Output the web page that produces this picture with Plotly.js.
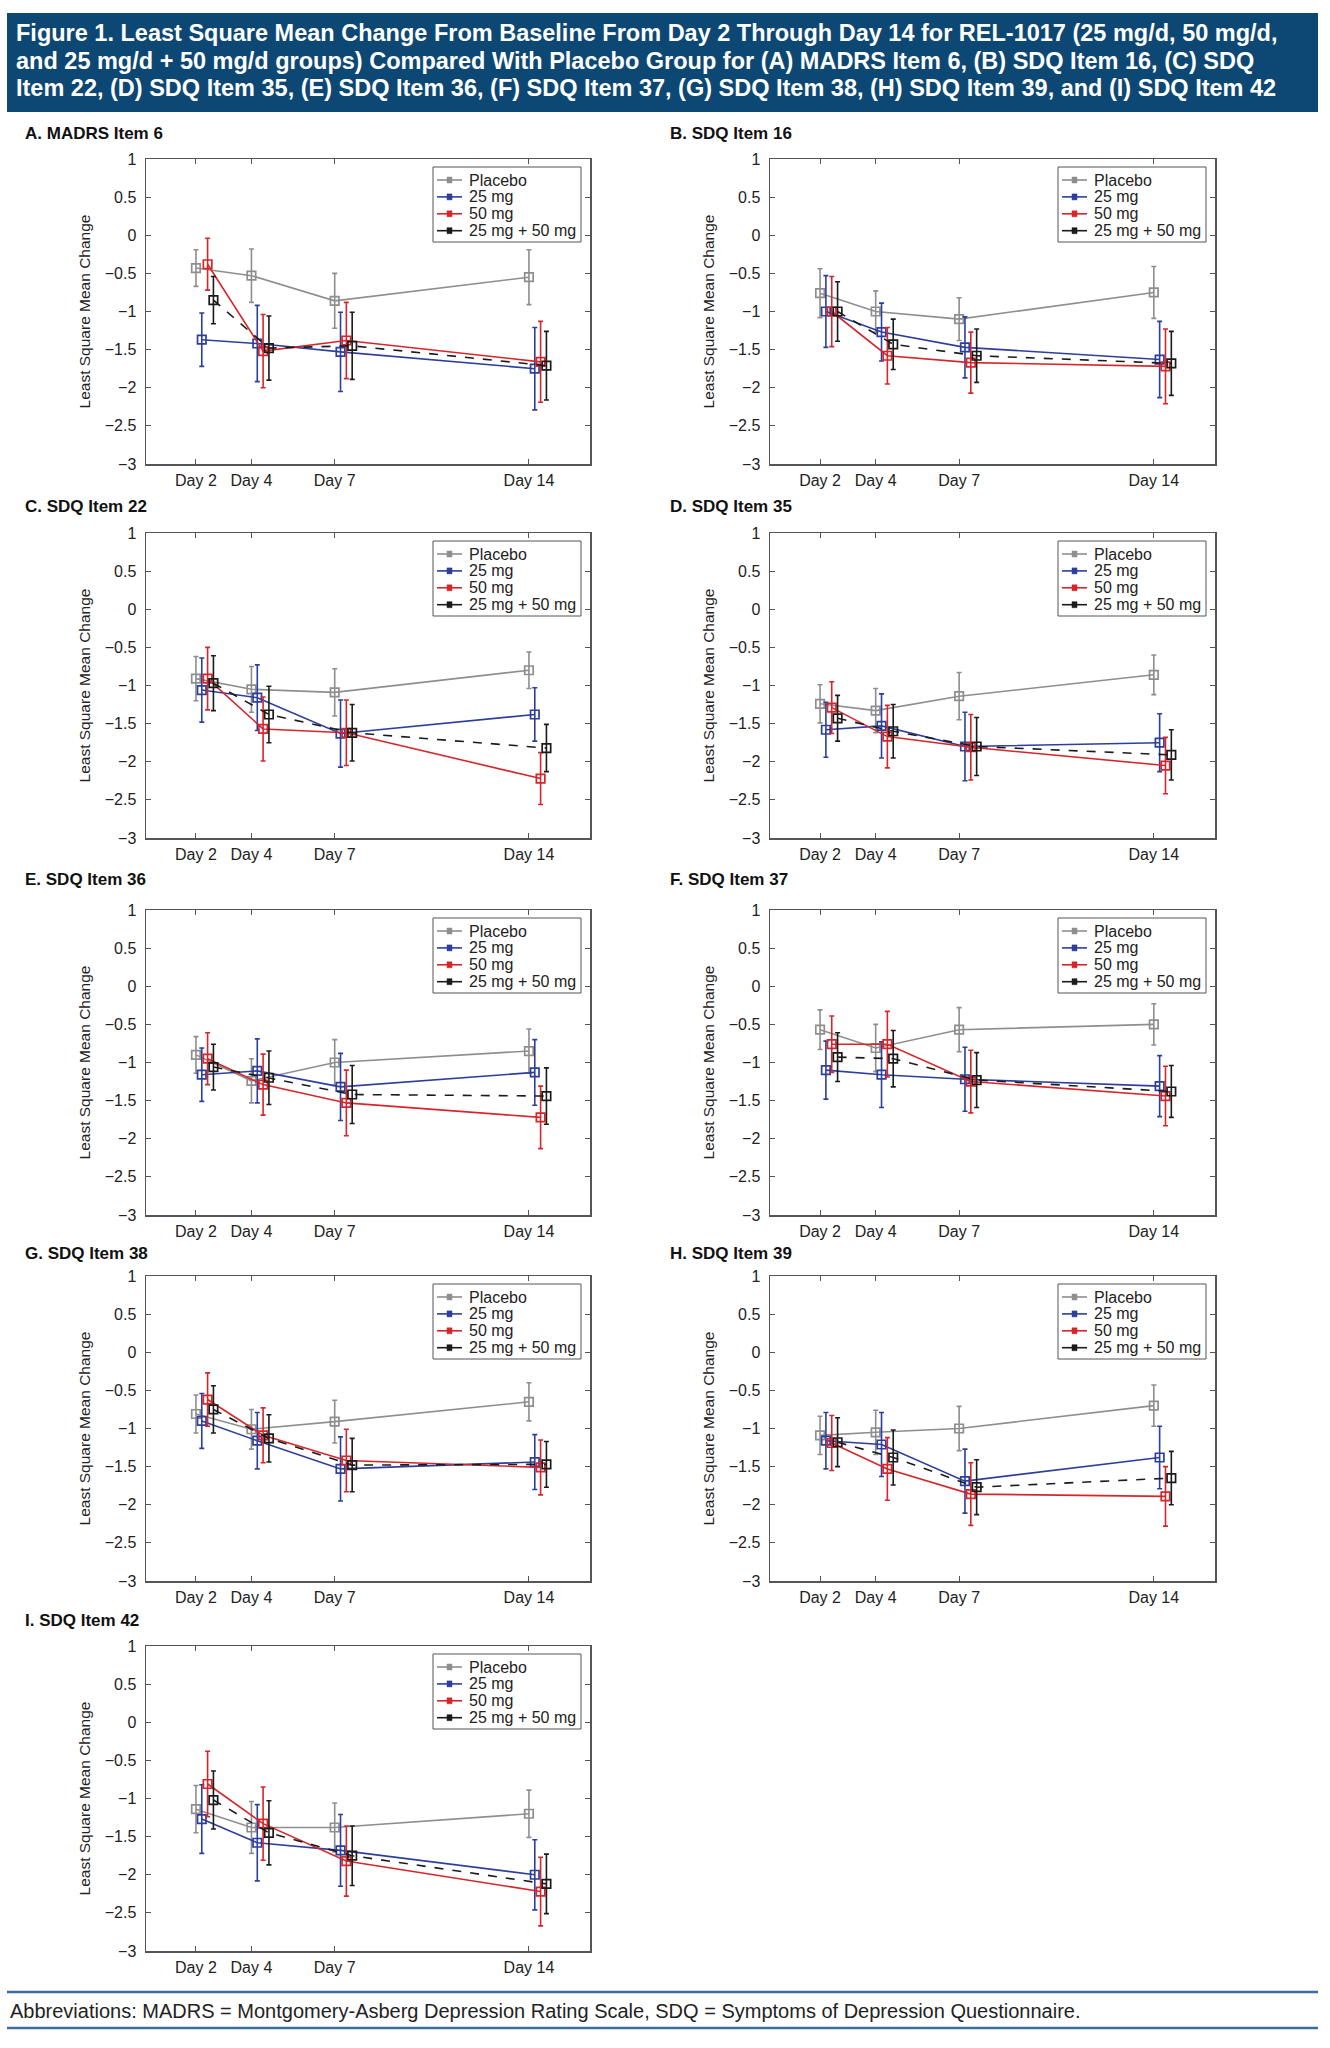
<!DOCTYPE html>
<html><head><meta charset="utf-8">
<script src="https://cdn.plot.ly/plotly-3.0.1.min.js"></script>
<style>html,body{margin:0;padding:0;background:#fff}</style>
</head><body><div id="chart" style="width:1330px;height:2048px"></div>
<script>
// ---------------- DATA ----------------
const days = [2, 4, 7, 14];
const dayLabels = ['Day 2', 'Day 4', 'Day 7', 'Day 14'];
const seriesNames = ['Placebo', '25 mg', '50 mg', '25 mg + 50 mg'];
const panelTitles = ['A. MADRS Item 6', 'B. SDQ Item 16', 'C. SDQ Item 22', 'D. SDQ Item 35',
  'E. SDQ Item 36', 'F. SDQ Item 37', 'G. SDQ Item 38', 'H. SDQ Item 39', 'I. SDQ Item 42'];
const yAxisTitle = 'Least Square Mean Change';
const headerLines = [
  'Figure 1. Least Square Mean Change From Baseline From Day 2 Through Day 14 for REL-1017 (25 mg/d, 50 mg/d,',
  'and 25 mg/d + 50 mg/d groups) Compared With Placebo Group for (A) MADRS Item 6, (B) SDQ Item 16, (C) SDQ',
  'Item 22, (D) SDQ Item 35, (E) SDQ Item 36, (F) SDQ Item 37, (G) SDQ Item 38, (H) SDQ Item 39, and (I) SDQ Item 42'
];
const footnote = 'Abbreviations: MADRS = Montgomery-Asberg Depression Rating Scale, SDQ = Symptoms of Depression Questionnaire.';

// LS mean change (rows: Placebo, 25 mg, 50 mg, 25 mg + 50 mg; columns: Day 2, 4, 7, 14)
// and half-width of the error bars
const meanA = [[-0.43, -0.53, -0.86, -0.55], [-1.37, -1.42, -1.53, -1.75], [-0.38, -1.52, -1.38, -1.66], [-0.85, -1.48, -1.45, -1.71]];
const errA  = [[0.24, 0.35, 0.36, 0.36], [0.35, 0.50, 0.52, 0.54], [0.34, 0.48, 0.50, 0.53], [0.31, 0.42, 0.44, 0.45]];
const meanB = [[-0.76, -1.00, -1.10, -0.75], [-1.00, -1.27, -1.47, -1.63], [-1.00, -1.58, -1.67, -1.72], [-1.00, -1.43, -1.58, -1.68]];
const errB  = [[0.32, 0.27, 0.28, 0.34], [0.47, 0.38, 0.40, 0.50], [0.46, 0.37, 0.40, 0.49], [0.39, 0.33, 0.35, 0.42]];
const meanC = [[-0.91, -1.05, -1.09, -0.80], [-1.06, -1.16, -1.63, -1.38], [-0.91, -1.57, -1.62, -2.22], [-0.97, -1.38, -1.62, -1.82]];
const errC  = [[0.29, 0.30, 0.31, 0.24], [0.42, 0.43, 0.44, 0.35], [0.41, 0.42, 0.43, 0.34], [0.36, 0.37, 0.37, 0.31]];
const meanD = [[-1.24, -1.33, -1.14, -0.86], [-1.58, -1.53, -1.80, -1.75], [-1.29, -1.67, -1.81, -2.05], [-1.43, -1.60, -1.80, -1.91]];
const errD  = [[0.25, 0.29, 0.31, 0.26], [0.36, 0.42, 0.45, 0.38], [0.34, 0.41, 0.43, 0.37], [0.30, 0.35, 0.38, 0.33]];
const meanE = [[-0.90, -1.24, -1.00, -0.85], [-1.16, -1.11, -1.32, -1.13], [-0.95, -1.29, -1.53, -1.72], [-1.06, -1.20, -1.42, -1.44]];
const errE  = [[0.24, 0.29, 0.30, 0.29], [0.35, 0.42, 0.44, 0.43], [0.34, 0.40, 0.43, 0.41], [0.30, 0.35, 0.38, 0.37]];
const meanF = [[-0.57, -0.81, -0.57, -0.50], [-1.10, -1.16, -1.22, -1.31], [-0.76, -0.76, -1.25, -1.44], [-0.93, -0.95, -1.23, -1.38]];
const errF  = [[0.26, 0.31, 0.29, 0.27], [0.38, 0.43, 0.42, 0.40], [0.37, 0.43, 0.41, 0.39], [0.32, 0.37, 0.36, 0.34]];
const meanG = [[-0.81, -1.01, -0.91, -0.65], [-0.90, -1.16, -1.53, -1.44], [-0.62, -1.09, -1.42, -1.51], [-0.75, -1.13, -1.48, -1.47]];
const errG  = [[0.25, 0.26, 0.28, 0.25], [0.36, 0.37, 0.42, 0.36], [0.35, 0.36, 0.41, 0.36], [0.31, 0.31, 0.35, 0.30]];
const meanH = [[-1.09, -1.05, -1.00, -0.70], [-1.16, -1.21, -1.69, -1.38], [-1.19, -1.53, -1.86, -1.89], [-1.18, -1.38, -1.77, -1.65]];
const errH  = [[0.25, 0.29, 0.29, 0.27], [0.37, 0.42, 0.42, 0.41], [0.36, 0.41, 0.41, 0.39], [0.32, 0.36, 0.36, 0.35]];
const meanI = [[-1.14, -1.38, -1.38, -1.20], [-1.27, -1.58, -1.68, -2.00], [-0.81, -1.33, -1.82, -2.22], [-1.02, -1.45, -1.75, -2.12]];
const errI  = [[0.31, 0.34, 0.32, 0.31], [0.45, 0.50, 0.47, 0.46], [0.43, 0.48, 0.46, 0.45], [0.38, 0.42, 0.39, 0.39]];

const panelMeans = [meanA, meanB, meanC, meanD, meanE, meanF, meanG, meanH, meanI];
const panelErrs  = [errA, errB, errC, errD, errE, errF, errG, errH, errI];

// ---------------- STYLE ----------------
const W = 1330, H = 2048;
const colors = ['#8e8e8e', '#2c3f9c', '#d6262b', '#1b1b1b'];
const dashes = ['solid', 'solid', 'solid', 'dash'];
const dodge = [0, 0.21, 0.42, 0.63];       // horizontal dodge of the groups (days)
const cols = [[146, 590], [770, 1215]];    // plot area left/right, px
const rows = [[159, 464], [533, 838], [910, 1215], [1276, 1581], [1646, 1951]]; // top/bottom, px
const titleY = [133, 506, 879, 1253, 1620];
const titleX = [23, 668];
const FONT = 'Liberation Sans, Arial, sans-serif';
const LEG_W = 148, LEG_H = 75, LEG_ROW = 16.9;

const px = v => v / W;
const py = v => 1 - v / H;

const traces = [];
const layout = {
  width: W, height: H, margin: {l: 0, r: 0, t: 0, b: 0},
  paper_bgcolor: '#ffffff', plot_bgcolor: '#ffffff',
  font: {family: FONT, color: '#222'},
  showlegend: false,
  annotations: [], shapes: []
};

panelTitles.forEach((title, p) => {
  const r = Math.floor(p / 2), c = p % 2;
  const n = p === 0 ? '' : String(p + 1);
  panelMeans[p].forEach((vals, s) => {
    traces.push({
      type: 'scatter', mode: 'lines+markers',
      name: seriesNames[s], showlegend: false,
      x: days.map(d => d + dodge[s]), y: vals,
      xaxis: 'x' + n, yaxis: 'y' + n,
      line: {color: colors[s], width: 1.6, dash: dashes[s]},
      marker: {symbol: 'square-open', size: 8.5, color: colors[s], line: {width: 1.7, color: colors[s]}},
      error_y: {type: 'data', array: panelErrs[p][s], symmetric: true, color: colors[s], thickness: 1.6, width: 2.5},
      hoverinfo: 'skip'
    });
  });
  const axStyle = {
    ticks: 'inside', ticklen: 5, tickwidth: 1, tickcolor: '#555',
    showline: true, linecolor: '#555', linewidth: 1.5, mirror: 'ticks',
    showgrid: false, zeroline: false, fixedrange: true,
    tickfont: {family: FONT, size: 16, color: '#222'}
  };
  layout['xaxis' + n] = Object.assign({}, axStyle, {
    domain: [px(cols[c][0]), px(cols[c][1])], anchor: 'y' + n,
    range: [0.2, 16.2], tickmode: 'array', tickvals: days, ticktext: dayLabels,
    ticklabelstandoff: 1
  });
  layout['yaxis' + n] = Object.assign({}, axStyle, {
    domain: [py(rows[r][1]), py(rows[r][0])], anchor: 'x' + n,
    range: [-3, 1], tick0: 0, dtick: 0.5, ticklabelstandoff: 5,
    title: {text: yAxisTitle, font: {family: FONT, size: 15.5, color: '#222'}, standoff: 10}
  });
  // panel legend (box, key line + marker, label)
  const L = cols[c][1] - 9 - LEG_W, T = rows[r][0] + 8;
  layout.shapes.push({type: 'rect', xref: 'paper', yref: 'paper',
    x0: px(L), x1: px(L + LEG_W), y0: py(T + LEG_H), y1: py(T),
    fillcolor: '#ffffff', line: {color: '#555', width: 1}});
  seriesNames.forEach((name, s) => {
    const yy = T + 13 + s * LEG_ROW;
    layout.shapes.push({type: 'line', xref: 'paper', yref: 'paper',
      x0: px(L + 4), x1: px(L + 29), y0: py(yy), y1: py(yy), line: {color: colors[s], width: 1.6}});
    layout.shapes.push({type: 'rect', xref: 'paper', yref: 'paper',
      x0: px(L + 14), x1: px(L + 19), y0: py(yy + 3), y1: py(yy - 3),
      fillcolor: colors[s], line: {color: colors[s], width: 0.5}});
    layout.annotations.push({xref: 'paper', yref: 'paper', x: px(L + 34), y: py(yy),
      xanchor: 'left', yanchor: 'middle', showarrow: false,
      text: name, font: {family: FONT, size: 16, color: '#222'}});
  });
  layout.annotations.push({
    xref: 'paper', yref: 'paper', x: px(titleX[c]), y: py(titleY[r]),
    xanchor: 'left', yanchor: 'middle', showarrow: false,
    text: '<b>' + title + '</b>', font: {family: FONT, size: 17, color: '#111'}
  });
});

// header band
layout.shapes.push({type: 'rect', xref: 'paper', yref: 'paper', layer: 'below',
  x0: px(7), x1: px(1318), y0: py(112), y1: py(13), fillcolor: '#0c4873', line: {width: 0}});
[33, 61, 88].forEach((yy, i) => {
  layout.annotations.push({xref: 'paper', yref: 'paper', x: px(14), y: py(yy),
    xanchor: 'left', yanchor: 'middle', showarrow: false,
    text: '<b>' + headerLines[i] + '</b>', font: {family: FONT, size: 23.5, color: '#ffffff'}});
});
// footer
[1992, 2028].forEach(yy => layout.shapes.push({type: 'line', xref: 'paper', yref: 'paper',
  x0: px(7), x1: px(1318), y0: py(yy), y1: py(yy), line: {color: '#3d6d9f', width: 2.5}}));
layout.annotations.push({xref: 'paper', yref: 'paper', x: px(8), y: py(2011),
  xanchor: 'left', yanchor: 'middle', showarrow: false,
  text: footnote, font: {family: FONT, size: 20, color: '#222'}});

Plotly.newPlot('chart', traces, layout, {staticPlot: true, displayModeBar: false});
</script>
</body></html>
